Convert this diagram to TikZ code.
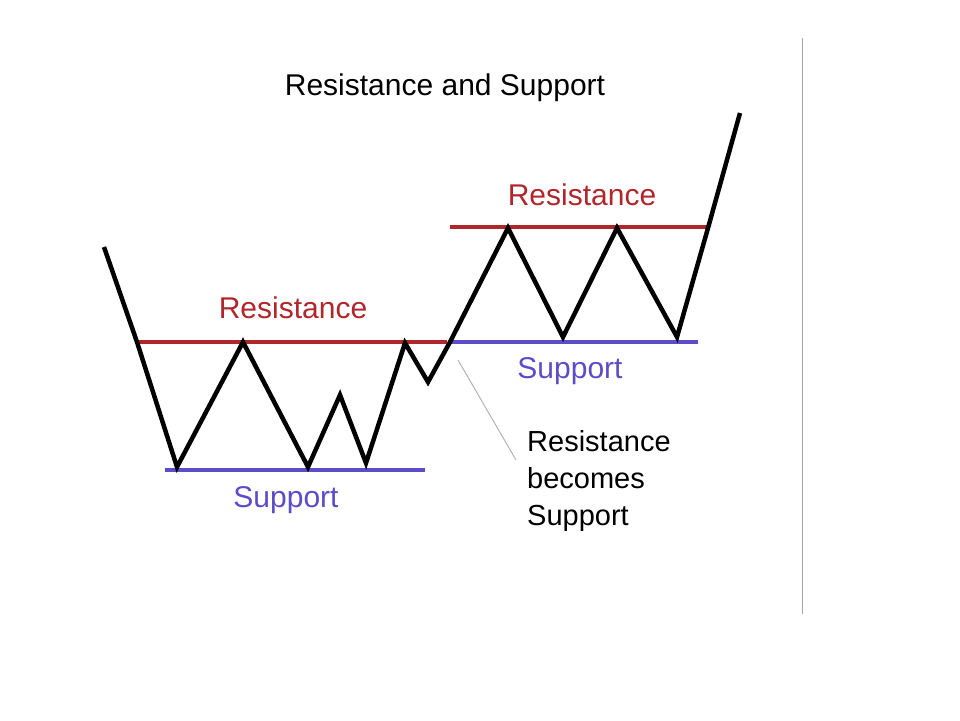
\documentclass[tikz,border=0pt]{standalone}
\usepackage{fontspec}
\setmainfont{Liberation Sans}
\definecolor{resred}{HTML}{B0262B}
\definecolor{supblue}{HTML}{5B4CC8}
\begin{document}
\begin{tikzpicture}[x=1pt,y=-1pt,
  lbl/.style={font=\fontsize{30}{34}\selectfont,inner sep=0pt},
  lvl/.style={line width=4pt}]
\useasboundingbox (0,0) rectangle (960,720);
\draw[gray!70,line width=1pt] (802,38) -- (802,614);
\node[lbl,text=black] (title) at (445,88) {Resistance and Support};
\draw[lvl,resred] (137,342) coordinate (r1a) -- (447,342) coordinate (r1b);
\draw[lvl,supblue] (165,470) coordinate (s1a) -- (425,470) coordinate (s1b);
\draw[lvl,resred] (450,227) coordinate (r2a) -- (708,227) coordinate (r2b);
\draw[lvl,supblue] (450,342) coordinate (s2a) -- (698,342) coordinate (s2b);
\draw[line width=4.5pt,line join=miter] (104,247) -- (137,342) -- (177,467) -- (243,342) -- (308,467) -- (340,395) -- (366,463) -- (405,343) -- (428,382) -- (450,342) -- (508,228) -- (563,337) -- (617,228) -- (677,337) -- (708,228) -- (740,113);
\node[lbl,text=resred] (rl1) at (293,308) {Resistance};
\node[lbl,text=resred] (rl2) at (582,195) {Resistance};
\node[lbl,text=supblue] (sl1) at (286,500) {Support};
\node[lbl,text=supblue] (sl2) at (570,371) {Support};
\node[lbl,align=left,anchor=north west,font=\fontsize{29}{37}\selectfont] (note) at (527,430) {Resistance\\becomes\\Support};
\coordinate (p1) at (458,360);
\draw[gray!60,line width=1pt] (p1) -- (516,460);
\end{tikzpicture}
\end{document}
